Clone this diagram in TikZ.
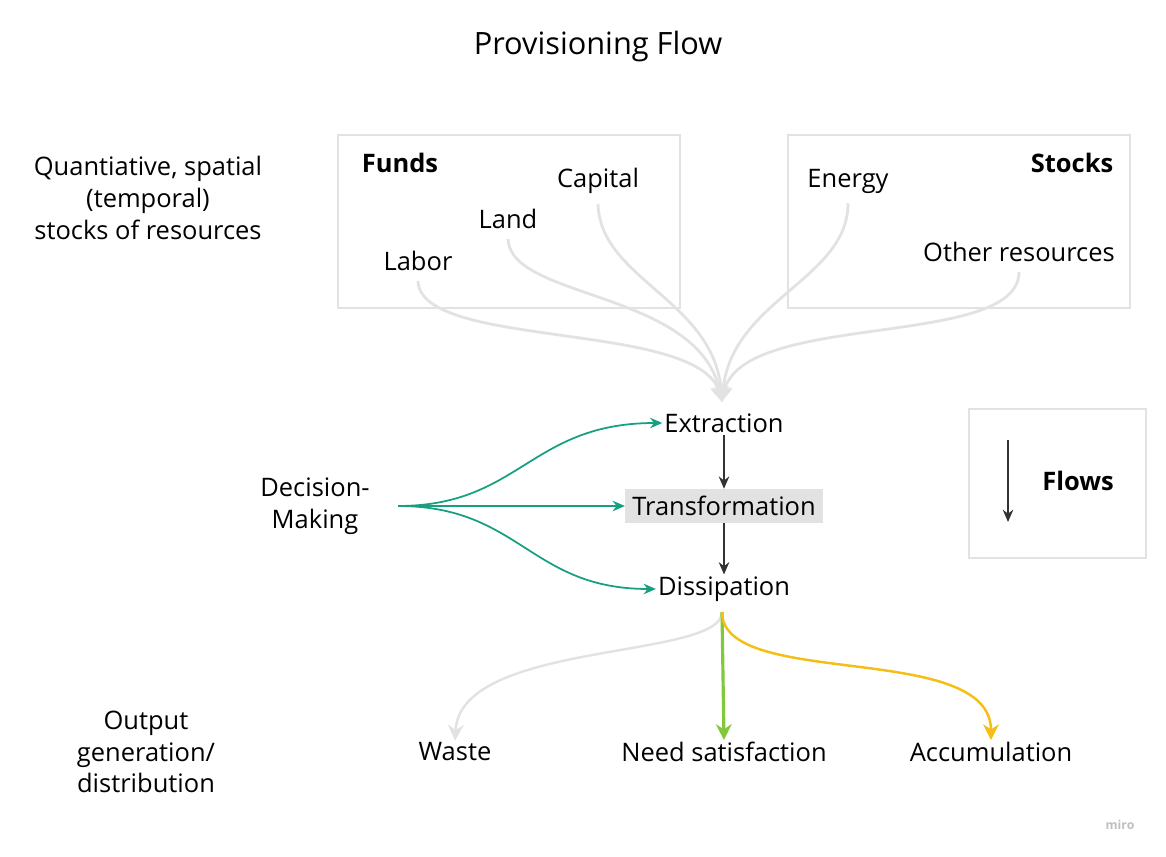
\documentclass[tikz,border=0pt]{standalone}
\usepackage{fontspec}
\setmainfont{Open Sans}
\usetikzlibrary{positioning,arrows.meta}
\definecolor{fundgray}{RGB}{226,226,226}
\definecolor{decgreen}{RGB}{22,160,128}
\definecolor{needgreen}{RGB}{130,200,60}
\definecolor{accyellow}{RGB}{245,190,20}
\tikzset{
  txt/.style={font=\fontsize{14.5}{18}\selectfont, inner sep=1pt, align=center},
  box/.style={draw=fundgray, line width=1pt},
  res/.style={draw=fundgray, line width=1.6pt, -{Stealth[length=9pt,width=9pt]}},
  flow/.style={draw=black!80, line width=1pt, -{Stealth[length=7pt,width=6pt]}},
  dec/.style={draw=decgreen, line width=1pt, -{Stealth[length=7pt,width=6pt]}}
}
\begin{document}
\begin{tikzpicture}[x=0.02cm,y=-0.02cm]
	\useasboundingbox (0,0) rectangle (1166,857);
	\node[txt, font=\fontsize{17.5}{21}\selectfont] (title) at (598,47) {Provisioning Flow};
	% resources
	\node[txt] (stocklbl) at (148,198) {Quantiative, spatial\\(temporal)\\stocks of resources};
	\draw[box] (338,135) rectangle (680,308);
	\draw[box] (788,135) rectangle (1130,308);
	\node[txt, font=\fontsize{14.5}{18}\selectfont\bfseries] (funds) at (400,163) {Funds};
	\node[txt, font=\fontsize{14.5}{18}\selectfont\bfseries] (stocks) at (1072,163) {Stocks};
	\node[txt] (capital) at (598,181) {Capital};
	\node[txt] (land) at (508,219) {Land};
	\node[txt] (labor) at (418,261) {Labor};
	\node[txt] (energy) at (848,181) {Energy};
	\node[txt] (other) at (1019,252) {Other resources};
	% flows
	\node[txt] (extr) at (724,423) {Extraction};
	\node[txt, fill=fundgray, minimum width=212\pgflinewidth, inner sep=4pt] (trans) at (724,506) {Transformation};
	\node[txt] (diss) at (724,589) {Dissipation};
	\coordinate (merge) at (722,402);
	\draw[res] (labor.south) ++(0,8) .. controls (420,350) and (700,320) .. (merge);
	\draw[res] (land.south) ++(0,8) .. controls (510,300) and (700,290) .. (merge);
	\draw[res] (capital.south) ++(0,8) .. controls (600,280) and (715,300) .. (merge);
	\draw[res] (energy.south) ++(0,8) .. controls (848,280) and (730,300) .. (merge);
	\draw[res] (other.south) ++(0,8) .. controls (1019,350) and (740,310) .. (merge);
	\draw[flow] (extr) -- (trans);
	\draw[flow] (trans) -- (diss);
	% decisions
	\node[txt] (decision) at (315,506) {Decision-\\Making};
	\coordinate (fan) at (398,506);
	\draw[dec] (fan) .. controls (520,506) and (530,423) .. (extr.west);
	\draw[dec] (fan) -- (trans.west);
	\draw[dec] (fan) .. controls (520,506) and (530,589) .. (diss.west);
	% legend
	\draw[box] (969,409) rectangle (1146,558);
	\coordinate (legtop) at (1008,440);
	\coordinate (legbot) at (1008,522);
	\draw[flow] (legtop) -- (legbot);
	\node[txt, font=\fontsize{14.5}{18}\selectfont\bfseries] (flows) at (1078,481) {Flows};
	% outputs
	\node[txt] (outlbl) at (146,752) {Output\\generation/\\distribution};
	\node[txt] (waste) at (455,752) {Waste};
	\node[txt] (need) at (724,752) {Need satisfaction};
	\node[txt] (accum) at (991,752) {Accumulation};
	\coordinate (split) at (722,612);
	\draw[res, line width=1.4pt] (split) .. controls (722,660) and (460,640) .. (waste.north);
	\draw[line width=1.8pt, needgreen, -{Stealth[length=9pt,width=9pt]}] (split) -- (need.north);
	\draw[line width=1.4pt, accyellow, -{Stealth[length=9pt,width=9pt]}] (split) .. controls (722,690) and (991,640) .. (accum.north);
	\node[txt, font=\fontsize{7}{8}\selectfont\bfseries, text=black!25] (miro) at (1120,825) {miro};
\end{tikzpicture}
\end{document}
